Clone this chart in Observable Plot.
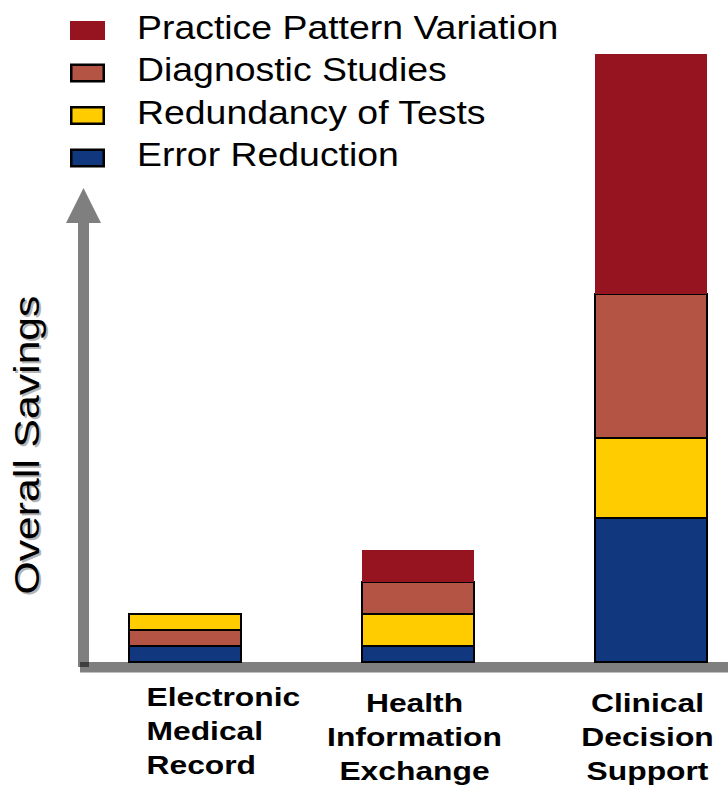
<!DOCTYPE html>
<html>
<head>
<meta charset="utf-8">
<script src="https://cdn.jsdelivr.net/npm/d3@7"></script>
<script src="https://cdn.jsdelivr.net/npm/@observablehq/plot@0.6"></script>
<style>
  body { margin: 0; background: #fff; }
  #chart { position: relative; width: 728px; height: 789px; }
  #chart svg { position: absolute; left: 0; top: 0; }
</style>
</head>
<body>
<div id="chart"></div>
<script>
// Health IT category and its savings components (relative units)
const categories = ["Electronic Medical Record", "Health Information Exchange", "Clinical Decision Support"];
const tickLabels = ["Electronic\nMedical\nRecord", "Health\nInformation\nExchange", "Clinical\nDecision\nSupport"];
const series = ["Error Reduction", "Redundancy of Tests", "Diagnostic Studies", "Practice Pattern Variation"];
const seriesColors = ["#11377f", "#ffcc00", "#b35444", "#951420"];
const errorReduction = [1, 1, 9];
const redundancyOfTests = [1, 2, 5];
const diagnosticStudies = [1, 2, 9];
const practicePatternVariation = [0, 2, 15];
// bottom-to-top layer sequence of each bar (indexes into series)
const layerOrder = [[0, 2, 1, 3], [0, 1, 2, 3], [0, 1, 2, 3]];
// legend rows, top to bottom
const legendOrder = [3, 2, 1, 0];
const yLabel = "Overall Savings";

const FONT = "'Liberation Sans', Arial, Helvetica, sans-serif";
const W = 728, H = 789;
const seriesValues = [errorReduction, redundancyOfTests, diagnosticStudies, practicePatternVariation];

const rows = categories.flatMap((c, ci) =>
  layerOrder[ci].map(si => ({category: c, series: series[si], value: seriesValues[si][ci]}))
).filter(d => d.value > 0);

const labels = categories.map((c, i) => ({category: c, label: tickLabels[i]}));

const plot = Plot.plot({
  width: W,
  height: H,
  marginLeft: 128,
  marginRight: 21,
  marginTop: 54,
  marginBottom: 127,
  style: {fontFamily: FONT, background: "transparent", overflow: "visible"},
  x: {domain: categories, paddingInner: 0.52, paddingOuter: 0, axis: null},
  y: {domain: [0, 38], axis: null},
  color: {domain: series, range: seriesColors},
  opacity: {type: "identity"},
  marks: [
    Plot.barY(rows, Plot.stackY({
      x: "category",
      y: "value",
      fill: "series",
      stroke: "black",
      strokeWidth: 2,
      strokeOpacity: d => d.series === series[3] ? 0 : 1,
      order: null
    })),
    // left-aligned label under the first bar
    Plot.text(labels.slice(0, 1), {
      x: "category", text: "label", frameAnchor: "bottom", lineAnchor: "top",
      textAnchor: "start", dx: -39, dy: 19,
      fontSize: 26.5, fontWeight: "bold", lineHeight: 1.29, fill: "black"
    }),
    // centred labels under the other bars
    Plot.text(labels.slice(1), {
      x: "category", text: "label", frameAnchor: "bottom", lineAnchor: "top",
      textAnchor: "middle", dx: -4, dy: 25,
      fontSize: 26.5, fontWeight: "bold", lineHeight: 1.29, fill: "black"
    }),
    // axis title with a soft drop shadow
    Plot.text([yLabel], {
      text: d => d, frameAnchor: "bottom-left", rotate: -90,
      textAnchor: "start", lineAnchor: "bottom", dx: -88, dy: -66,
      fontSize: 35, fill: "#b4b4b4"
    }),
    Plot.text([yLabel], {
      text: d => d, frameAnchor: "bottom-left", rotate: -90,
      textAnchor: "start", lineAnchor: "bottom", dx: -90, dy: -68,
      fontSize: 35, fill: "black"
    })
  ]
});

document.getElementById("chart").appendChild(plot);

// the typeface runs wide: stretch each text group along its own baseline
const stretch = [1.2, 1.2, 1.22, 1.22];
d3.select(plot).selectAll('g[aria-label="text"]').each(function (_, gi) {
  const s = stretch[gi] || 1;
  d3.select(this).selectAll("text").attr("transform", function () {
    return (this.getAttribute("transform") || "") + ` scale(${s},1)`;
  });
});

// gray axis arrow and baseline, semi-transparent so the corner overlaps darker
const y0 = plot.scale("y").apply(0);
const deco = d3.select(plot).insert("g", 'g[aria-label="bar"]')
  .attr("fill", "black").attr("fill-opacity", 0.5);
const ax = 83.5, shaftHalf = 5.5, headHalf = 17.5, tipY = 188, headBase = 223;
deco.append("path").attr("d",
  `M${ax - shaftHalf},${y0 + 5}V${headBase}H${ax - headHalf}L${ax},${tipY}L${ax + headHalf},${headBase}H${ax + shaftHalf}V${y0 + 5}Z`);
deco.append("rect").attr("x", 80).attr("y", y0).attr("width", W - 80).attr("height", 10.5);

// legend in the upper left
const legend = d3.select("#chart").append("svg")
  .attr("width", W).attr("height", 190)
  .style("pointer-events", "none")
  .attr("font-family", FONT);
legendOrder.forEach((si, row) => {
  const cy = 30.5 + row * 42.5;
  const plain = si === 3;
  legend.append("rect")
    .attr("x", plain ? 70 : 71.25).attr("y", plain ? cy - 9.5 : cy - 8.25)
    .attr("width", plain ? 35 : 32.5).attr("height", plain ? 19 : 16.5)
    .attr("fill", seriesColors[si])
    .attr("stroke", plain ? "none" : "black").attr("stroke-width", 2.5);
  legend.append("text")
    .attr("transform", `translate(137,${cy + 8}) scale(1.1,1)`)
    .attr("font-size", 34).attr("fill", "black")
    .text(series[si]);
});
</script>
</body>
</html>
